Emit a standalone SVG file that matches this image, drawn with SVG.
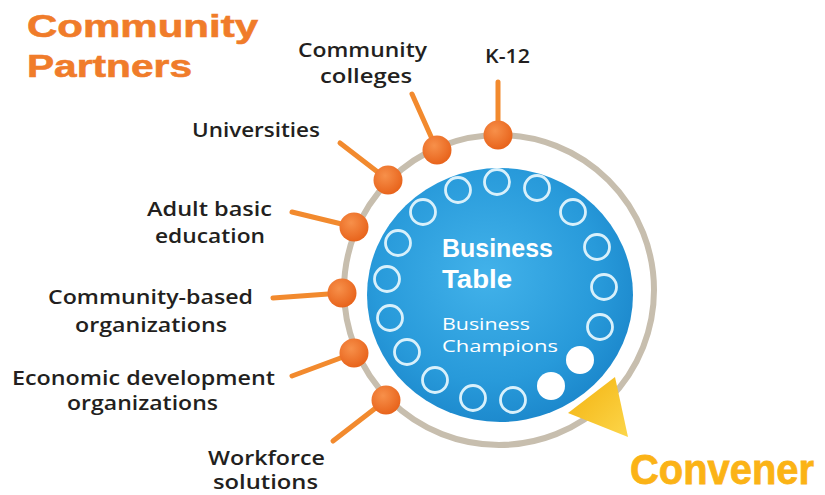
<svg xmlns="http://www.w3.org/2000/svg" width="825" height="495" viewBox="0 0 825 495">
<defs>
<radialGradient id="blueG" cx="0.45" cy="0.42" r="0.6">
<stop offset="0" stop-color="#42b2ea"/>
<stop offset="0.7" stop-color="#289ada"/>
<stop offset="1" stop-color="#1c88cc"/>
</radialGradient>
<radialGradient id="orG" cx="0.4" cy="0.35" r="0.65">
<stop offset="0" stop-color="#f7904a"/>
<stop offset="1" stop-color="#e8641c"/>
</radialGradient>
<linearGradient id="yelG" x1="0" y1="0" x2="1" y2="1">
<stop offset="0" stop-color="#f3b20f"/>
<stop offset="1" stop-color="#fcd64a"/>
</linearGradient>
<style>
.lbl{font-family:"Open Sans","Liberation Sans",sans-serif;font-weight:600;font-size:19px;fill:#231f20;text-anchor:middle}
.title{font-family:"Liberation Sans","Open Sans",sans-serif;font-weight:700;font-size:32px;fill:#f07c2a;stroke:#f07c2a;stroke-width:0.6}
.conv{font-family:"Liberation Sans","Open Sans",sans-serif;font-weight:700;font-size:42px;fill:#fbb316;stroke:#fbb316;stroke-width:0.8}
.bt{font-family:"Liberation Sans","Open Sans",sans-serif;font-weight:700;font-size:26px;fill:#ffffff}
.bc{font-family:"Open Sans","Liberation Sans",sans-serif;font-weight:400;font-size:17px;fill:#ffffff}
.spoke{stroke:#f28a2e;stroke-width:5;stroke-linecap:round}
.node{fill:url(#orG)}
.seat{fill:none;stroke:#d8f0fb;stroke-width:2.8}
.seatf{fill:#ffffff}
</style>
</defs>
<rect width="825" height="495" fill="#ffffff"/>

<g id="ring">
<circle cx="499" cy="290" r="155" fill="none" stroke="#c7beae" stroke-width="6"/>
</g>

<g id="business-table">
<ellipse cx="500" cy="295" rx="133" ry="127" fill="url(#blueG)"/>
<g id="seats">
<circle class="seat" cx="497" cy="182" r="12.5"/>
<circle class="seat" cx="458" cy="190" r="12.5"/>
<circle class="seat" cx="537" cy="188" r="12.5"/>
<circle class="seat" cx="423" cy="212" r="12.5"/>
<circle class="seat" cx="573" cy="212" r="12.5"/>
<circle class="seat" cx="398" cy="243" r="12.5"/>
<circle class="seat" cx="597" cy="247" r="12.5"/>
<circle class="seat" cx="387" cy="279" r="12.5"/>
<circle class="seat" cx="604" cy="287" r="12.5"/>
<circle class="seat" cx="390" cy="318" r="12.5"/>
<circle class="seat" cx="600" cy="327" r="12.5"/>
<circle class="seat" cx="407" cy="352" r="12.5"/>
<circle class="seat" cx="435" cy="380" r="12.5"/>
<circle class="seat" cx="473" cy="398" r="12.5"/>
<circle class="seat" cx="513" cy="400" r="12.5"/>
<circle class="seatf" cx="551" cy="386" r="14"/>
<circle class="seatf" cx="580" cy="360" r="14"/>
</g>
<text class="bt" x="442" y="257" textLength="111" lengthAdjust="spacingAndGlyphs">Business</text>
<text class="bt" x="442" y="288" textLength="70" lengthAdjust="spacingAndGlyphs">Table</text>
<text class="bc" x="442" y="330" textLength="88" lengthAdjust="spacingAndGlyphs">Business</text>
<text class="bc" x="442" y="352" textLength="116" lengthAdjust="spacingAndGlyphs">Champions</text>
</g>

<g id="convener-arrow">
<polygon points="568,413 615,377 628,437" fill="url(#yelG)"/>
</g>

<g id="connectors">
<line class="spoke" x1="498" y1="82" x2="498" y2="135"/>
<line class="spoke" x1="412" y1="94" x2="437" y2="150"/>
<line class="spoke" x1="340" y1="143" x2="388" y2="180"/>
<line class="spoke" x1="292" y1="212" x2="354" y2="227"/>
<line class="spoke" x1="273" y1="298" x2="342" y2="293"/>
<line class="spoke" x1="292" y1="376" x2="354" y2="353"/>
<line class="spoke" x1="333" y1="441" x2="386" y2="400"/>
</g>

<g id="k12">
<circle class="node" cx="498" cy="135" r="14.5"/>
<text class="lbl" x="507.5" y="63" textLength="45" lengthAdjust="spacingAndGlyphs">K-12</text>
</g>
<g id="community-colleges">
<circle class="node" cx="437" cy="150" r="14.5"/>
<text class="lbl" x="362.5" y="57" textLength="129" lengthAdjust="spacingAndGlyphs">Community</text>
<text class="lbl" x="366" y="83" textLength="92" lengthAdjust="spacingAndGlyphs">colleges</text>
</g>
<g id="universities">
<circle class="node" cx="388" cy="180" r="14.5"/>
<text class="lbl" x="256" y="137" textLength="128" lengthAdjust="spacingAndGlyphs">Universities</text>
</g>
<g id="adult-basic-education">
<circle class="node" cx="354" cy="227" r="14.5"/>
<text class="lbl" x="209.5" y="216" textLength="125" lengthAdjust="spacingAndGlyphs">Adult basic</text>
<text class="lbl" x="210" y="243" textLength="110" lengthAdjust="spacingAndGlyphs">education</text>
</g>
<g id="community-based">
<circle class="node" cx="342" cy="293" r="14.5"/>
<text class="lbl" x="150.5" y="304" textLength="205" lengthAdjust="spacingAndGlyphs">Community-based</text>
<text class="lbl" x="151" y="332" textLength="152" lengthAdjust="spacingAndGlyphs">organizations</text>
</g>
<g id="economic-development">
<circle class="node" cx="354" cy="353" r="14.5"/>
<text class="lbl" x="143.5" y="385" textLength="263" lengthAdjust="spacingAndGlyphs">Economic development</text>
<text class="lbl" x="142.5" y="410" textLength="151" lengthAdjust="spacingAndGlyphs">organizations</text>
</g>
<g id="workforce-solutions">
<circle class="node" cx="386" cy="400" r="14.5"/>
<text class="lbl" x="266.5" y="465" textLength="117" lengthAdjust="spacingAndGlyphs">Workforce</text>
<text class="lbl" x="265.5" y="489" textLength="105" lengthAdjust="spacingAndGlyphs">solutions</text>
</g>

<g id="titles">
<text class="title" x="27" y="37" textLength="231" lengthAdjust="spacingAndGlyphs">Community</text>
<text class="title" x="27" y="77" textLength="165" lengthAdjust="spacingAndGlyphs">Partners</text>
<text class="conv" x="630" y="484" textLength="184" lengthAdjust="spacingAndGlyphs">Convener</text>
</g>
</svg>
